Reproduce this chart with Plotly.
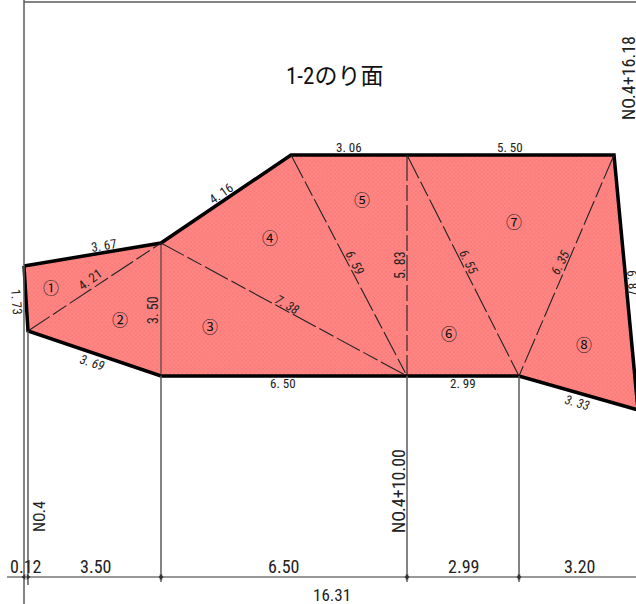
import plotly.graph_objects as go

# Outline of the slope face (x, y in drawing pixels)
outline_x = [24, 161, 291, 614, 638, 519, 407, 161, 28, 24]
outline_y = [266, 243, 155, 155, 410, 376, 376, 376, 331, 266]

# Dashed interior triangulation lines
dash_lines = [
    ([28, 161], [331, 243]),
    ([161, 407], [243, 376]),
    ([291, 407], [155, 376]),
    ([407, 407], [155, 376]),
    ([407, 519], [155, 376]),
    ([614, 519], [155, 376]),
]
solid_inner_x = [161, 161]
solid_inner_y = [243, 376]

# Extension and dimension lines
guide_lines = [
    ([24, 24], [0, 604]),
    ([28, 28], [331, 585]),
    ([161, 161], [376, 582]),
    ([407, 407], [376, 582]),
    ([519, 519], [376, 582]),
    ([24, 636], [2, 2]),
]
dim_x = [7, 636]
dim_y = [577, 577]
arrow_right_x = [161, 407, 519, 28]
arrow_left_x = [161, 407, 519, 24]

# Labels: text, x, y, angle, size
dim_labels = [
    ("3. 67", 104, 245, -9, 13), ("4. 21", 90, 279, -36, 13), ("1. 73", 17, 302, 85, 13),
    ("<i>3. 69</i>", 92, 362, 18, 13), ("3. 50", 153, 310, -90, 14), ("6. 50", 283, 383, 0, 13),
    ("4. 16", 221, 193, -35, 13), ("3. 06", 349, 147, 0, 13), ("5. 50", 510, 147, 0, 13),
    ("5. 83", 400, 265, -90, 14), ("<i>7. 38</i>", 287, 304, 30, 13), ("<i>6. 59</i>", 355, 262, 62, 13),
    ("<i>6. 55</i>", 469, 262, 63, 13), ("<i>6. 35</i>", 560, 262, -63, 13), ("2. 99", 463, 383, 0, 13),
    ("<i>3. 33</i>", 577, 402, 16, 13), ("6. 87", 633, 283, 85, 13),
    ("0.12", 26, 566, 0, 18), ("3.50", 95, 566, 0, 18), ("6.50", 283, 566, 0, 18),
    ("2.99", 463, 566, 0, 18), ("3.20", 579, 566, 0, 18), ("16.31", 332, 595, 0, 17),
    ("NO.4", 39, 517, -90, 16), ("NO.4+10.00", 398, 491, -90, 18), ("NO.4+16.18", 628, 78, -90, 18),
]
circle_labels = [("①", 51, 287), ("②", 120, 319), ("③", 210, 326), ("④", 270, 237),
                 ("⑤", 362, 199), ("⑥", 449, 333), ("⑦", 514, 221), ("⑧", 584, 344)]
title_text = "1-2のり面"

FONT = "Roboto Condensed, Noto Sans CJK JP, sans-serif"
fig = go.Figure()

fig.add_trace(go.Scatter(x=outline_x, y=outline_y, mode="lines", fill="toself",
                         fillcolor="#fb7d7b",
                         fillpattern=dict(shape="x", bgcolor="#ff8684", fgcolor="#ef6c6a", size=3, solidity=0.4),
                         line=dict(color="#000000", width=3.5), hoverinfo="skip"))
for gx, gy in guide_lines:
    fig.add_trace(go.Scatter(x=gx, y=gy, mode="lines", line=dict(color="#5a5a5a", width=1.5), hoverinfo="skip"))
fig.add_trace(go.Scatter(x=dim_x, y=dim_y, mode="lines", line=dict(color="#333333", width=1), hoverinfo="skip"))
fig.add_trace(go.Scatter(x=solid_inner_x, y=solid_inner_y, mode="lines", line=dict(color="#333333", width=1), hoverinfo="skip"))
for lx, ly in dash_lines:
    fig.add_trace(go.Scatter(x=lx, y=ly, mode="lines",
                             line=dict(color="#222222", width=1.1, dash="26px,4px,16px,4px"), hoverinfo="skip"))
fig.add_trace(go.Scatter(x=arrow_right_x, y=[577] * len(arrow_right_x), mode="markers",
                         marker=dict(symbol="triangle-right", size=5, color="#333333"), hoverinfo="skip"))
fig.add_trace(go.Scatter(x=arrow_left_x, y=[577] * len(arrow_left_x), mode="markers",
                         marker=dict(symbol="triangle-left", size=5, color="#333333"), hoverinfo="skip"))

for text, x, y, angle, size in dim_labels:
    fig.add_annotation(x=x, y=y, text=text, textangle=angle, showarrow=False,
                       font=dict(family=FONT, size=size, color="#222222"))
for text, x, y in circle_labels:
    fig.add_annotation(x=x, y=y, text=text, showarrow=False,
                       font=dict(family="Noto Sans CJK JP", size=16, color="#111111"))
fig.add_annotation(x=334, y=76, text=title_text, showarrow=False,
                   font=dict(family=FONT, size=23, color="#111111"))

fig.update_xaxes(range=[0, 636], visible=False)
fig.update_yaxes(range=[604, 0], visible=False)
fig.update_layout(width=636, height=604, margin=dict(l=0, r=0, t=0, b=0),
                  showlegend=False, plot_bgcolor="white", paper_bgcolor="white")
fig.write_html("out.html", config={"displayModeBar": False},
               post_script="document.body.style.margin='0';document.body.style.overflow='hidden';")
